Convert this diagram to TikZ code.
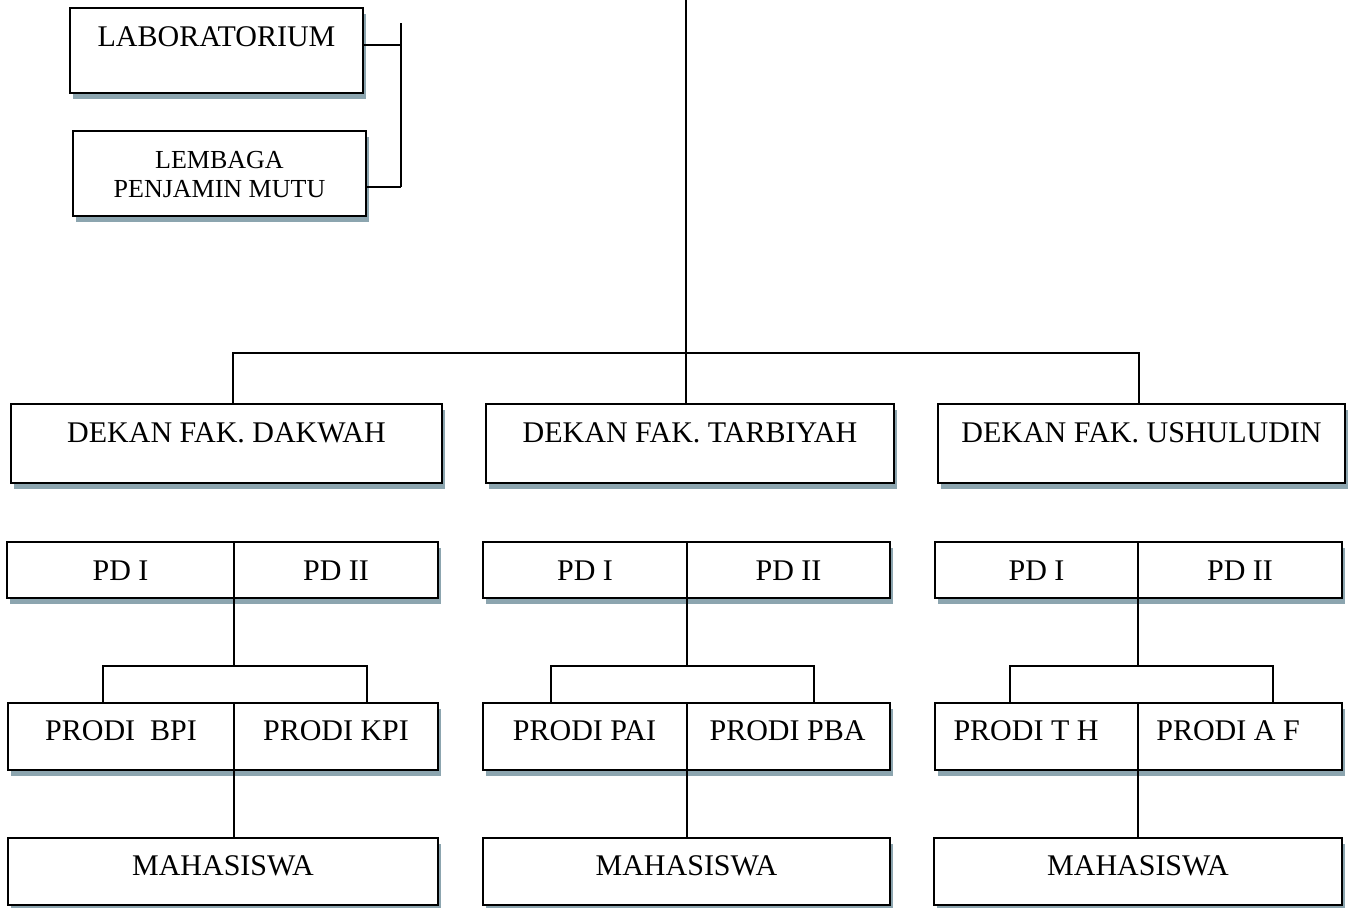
\documentclass[tikz,border=0pt]{standalone}
\usepackage{fontspec}
\setmainfont{Liberation Serif}
\usetikzlibrary{shadows,calc}
\definecolor{shadowc}{HTML}{8CA5AF}
\newcommand\bx[5]{\node[box, minimum width={(#4-#2)*0.5pt}, minimum height={(#5-#3)*0.5pt}] (#1) at ({(#2+#4)/2},{(#3+#5)/2}) {};}
\tikzset{
  box/.style={draw, line width=1pt, fill=white, inner sep=0pt,
    general shadow={fill=shadowc, shadow xshift=1.6pt, shadow yshift=-3pt}},
  txt/.style={anchor=base, inner sep=0pt, font=\fontsize{15}{17}\selectfont},
  stxt/.style={anchor=base, inner sep=0pt, font=\fontsize{13}{15}\selectfont},
  conn/.style={line width=0.8pt}
}
\begin{document}
\begin{tikzpicture}[x=0.5pt,y=-0.5pt]
\useasboundingbox (0,0) rectangle (1352,907);
% top-left boxes
\bx{lab}{70}{8}{363}{93}
\node[txt] (labt) at (216.5,46) {LABORATORIUM};
\bx{lpm}{73}{131}{366}{216}
\node[stxt] (lpmt1) at (219.5,168) {LEMBAGA};
\node[stxt] (lpmt2) at (219.5,197) {PENJAMIN MUTU};
\coordinate (lj) at (401,45);
\coordinate (lv1) at (401,23);
\coordinate (lv2) at (401,187);
\draw[conn] (lj -| lab.east) -- (lj);
\draw[conn] (lv1) -- (lv2);
\draw[conn] (lv2 -| lpm.east) -- (lv2);
% deans
\bx{dk}{11}{404}{442}{483}
\bx{dt}{486}{404}{894}{483}
\bx{du}{938}{404}{1345}{483}
\node[txt] (dkt) at (226.5,442) {DEKAN FAK. DAKWAH};
\node[txt] (dtt) at (690,442) {DEKAN FAK. TARBIYAH};
\node[txt] (dut) at (1141.5,442) {DEKAN FAK. USHULUDIN};
% top connectors
\coordinate (top) at (686,0);
\coordinate (hubL) at (233,353);
\coordinate (hubR) at (1139,353);
\draw[conn] (top) -- (top |- dt.north);
\draw[conn] (hubL |- dk.north) -- (hubL) -- (hubR) -- (hubR |- du.north);
% PD row
\bx{pa1}{7}{542}{234}{598}
\bx{pa2}{234}{542}{438}{598}
\bx{pb1}{483}{542}{687}{598}
\bx{pb2}{687}{542}{890}{598}
\bx{pc1}{935}{542}{1138}{598}
\bx{pc2}{1138}{542}{1342}{598}
\node[txt] (pa1t) at (120.5,580) {PD I};
\node[txt] (pa2t) at (336,580) {PD II};
\node[txt] (pb1t) at (585,580) {PD I};
\node[txt] (pb2t) at (788.5,580) {PD II};
\node[txt] (pc1t) at (1036.5,580) {PD I};
\node[txt] (pc2t) at (1240,580) {PD II};
% Prodi row
\bx{ra1}{8}{703}{234}{770}
\bx{ra2}{234}{703}{438}{770}
\bx{rb1}{483}{703}{687}{770}
\bx{rb2}{687}{703}{890}{770}
\bx{rc1}{935}{703}{1138}{770}
\bx{rc2}{1138}{703}{1342}{770}
\node[txt] (ra1t) at (121,740) {PRODI\ \ BPI};
\node[txt] (ra2t) at (336,740) {PRODI KPI};
\node[txt] (rb1t) at (584.5,740) {PRODI PAI};
\node[txt] (rb2t) at (787.5,740) {PRODI PBA};
\node[txt] (rc1t) at (1026,740) {PRODI T H};
\node[txt] (rc2t) at (1228,740) {PRODI A F};
% Mahasiswa row
\bx{ma}{8}{838}{438}{905}
\bx{mb}{483}{838}{890}{905}
\bx{mc}{934}{838}{1342}{905}
\node[txt] (mat) at (223,875) {MAHASISWA};
\node[txt] (mbt) at (686.5,875) {MAHASISWA};
\node[txt] (mct) at (1138,875) {MAHASISWA};
% PD -> Prodi connectors
\coordinate (ja) at (234,666); \coordinate (jaL) at (103,666); \coordinate (jaR) at (367,666);
\coordinate (jb) at (687,666); \coordinate (jbL) at (551,666); \coordinate (jbR) at (814,666);
\coordinate (jc) at (1138,666); \coordinate (jcL) at (1010,666); \coordinate (jcR) at (1273,666);
\draw[conn] (ja |- pa1.south) -- (ja);
\draw[conn] (ra1.north -| jaL) -- (jaL) -- (jaR) -- (ra2.north -| jaR);
\draw[conn] (jb |- pb1.south) -- (jb);
\draw[conn] (rb1.north -| jbL) -- (jbL) -- (jbR) -- (rb2.north -| jbR);
\draw[conn] (jc |- pc1.south) -- (jc);
\draw[conn] (rc1.north -| jcL) -- (jcL) -- (jcR) -- (rc2.north -| jcR);
% Prodi -> Mahasiswa connectors
\draw[conn] (ja |- ra1.south) -- (ja |- ma.north);
\draw[conn] (jb |- rb1.south) -- (jb |- mb.north);
\draw[conn] (jc |- rc1.south) -- (jc |- mc.north);
\end{tikzpicture}
\end{document}
